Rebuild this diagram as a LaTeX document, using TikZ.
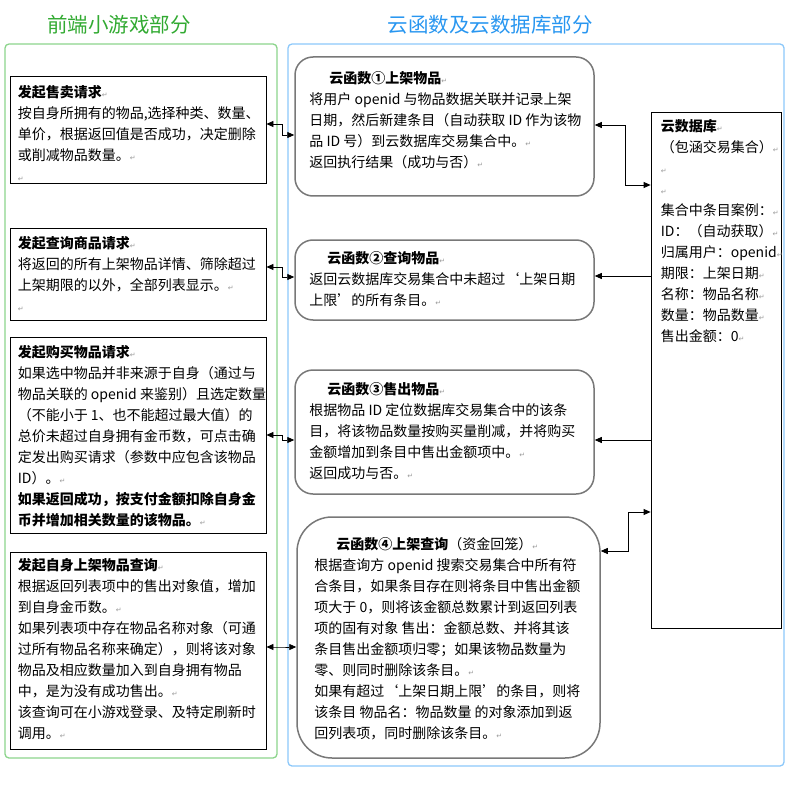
\documentclass[tikz,border=0pt]{standalone}
\usepackage{fontspec}
\setmainfont{Noto Sans CJK SC}
\newfontfamily\symfont{DejaVu Sans}
\usetikzlibrary{arrows.meta}
\definecolor{frontline}{RGB}{140,212,140}
\definecolor{fronttext}{RGB}{50,170,50}
\definecolor{cloudline}{RGB}{140,200,250}
\definecolor{cloudtext}{RGB}{40,150,240}
\definecolor{fnline}{RGB}{120,120,120}
\newcommand{\ret}{{\symfont\fontsize{7}{7}\selectfont\color{gray!80}↵}}
\newcommand{\bodyfont}{\fontsize{14}{21}\selectfont}
\newcommand{\headfont}{\fontsize{20.5}{24}\selectfont}

\begin{document}
\begin{tikzpicture}[x=1pt, y=-1pt,
	part/.style={draw, line width=1.3pt, rounded corners=4pt},
	req/.style={draw, line width=0.8pt, inner sep=0pt, minimum width=256pt},
	fn/.style={draw=fnline, line width=1.5pt, rounded corners=18pt, inner sep=0pt, minimum width=299pt},
	txt/.style={anchor=north west, inner sep=0pt, align=left, font=\bodyfont},
	both/.style={line width=0.8pt, {Triangle[length=7pt,width=6pt]}-{Triangle[length=7pt,width=6pt]}},
	arr/.style={line width=0.8pt, -{Triangle[length=7pt,width=6pt]}}]
	\useasboundingbox (0,0) rectangle (788,794);
	
	%the two parts
	\draw[part, frontline] (5,44) rectangle (277,758);
	\draw[part, cloudline] (288,44) rectangle (784,766);
	\node[text=fronttext, font=\headfont] (fronthead) at (119,25) {前端小游戏部分};
	\node[text=cloudtext, font=\headfont] (cloudhead) at (490,25) {云函数及云数据库部分};
	
	%front requests
	\node[req, minimum height=107pt] (sell) at (138,129.5) {};
	\node[req, minimum height=92pt] (query) at (138,274) {};
	\node[req, minimum height=196pt] (buy) at (138,435) {};
	\node[req, minimum height=197pt] (mine) at (138,650.5) {};
	
	\node[txt] (sell-t) at ([xshift=8pt,yshift=-10pt]sell.north west) {%
		\textbf{发起售卖请求}\ret\\
		按自身所拥有的物品,选择种类、数量、\\
		单价，根据返回值是否成功，决定删除\\
		或削减物品数量。\ret\\
		\ret};
	\node[txt] (query-t) at ([xshift=8pt,yshift=-9pt]query.north west) {%
		\textbf{发起查询商品请求}\ret\\
		将返回的所有上架物品详情、筛除超过\\
		上架期限的以外，全部列表显示。\ret\\
		\ret};
	\node[txt] (buy-t) at ([xshift=8pt,yshift=-9pt]buy.north west) {%
		\textbf{发起购买物品请求}\ret\\
		如果选中物品并非来源于自身（通过与\\
		物品关联的 openid 来鉴别）且选定数量\\
		（不能小于 1、也不能超过最大值）的\\
		总价未超过自身拥有金币数，可点击确\\
		定发出购买请求（参数中应包含该物品\\
		ID）。\ret\\
		\textbf{如果返回成功，按支付金额扣除自身金}\\
		\textbf{币并增加相关数量的该物品。}\ret};
	\node[txt] (mine-t) at ([xshift=8pt,yshift=-7pt]mine.north west) {%
		\textbf{发起自身上架物品查询}\ret\\
		根据返回列表项中的售出对象值，增加\\
		到自身金币数。\ret\\
		如果列表项中存在物品名称对象（可通\\
		过所有物品名称来确定），则将该对象\\
		物品及相应数量加入到自身拥有物品\\
		中，是为没有成功售出。\ret\\
		该查询可在小游戏登录、及特定刷新时\\
		调用。\ret};
	
	%cloud functions
	\node[fn, minimum height=139pt] (fn1) at (444.5,126.5) {};
	\node[fn, minimum height=80pt] (fn2) at (444.5,280) {};
	\node[fn, minimum height=124pt] (fn3) at (444.5,432) {};
	\node[fn, rounded corners=35pt, minimum width=303pt, minimum height=241pt] (fn4) at (448.5,637.5) {};
	
	\node[txt] (fn1-t) at ([xshift=15pt,yshift=-15pt]fn1.north west) {%
		\hspace*{20pt}\textbf{云函数①上架物品}\ret\\
		将用户 openid 与物品数据关联并记录上架\\
		日期，然后新建条目（自动获取 ID 作为该物\\
		品 ID 号）到云数据库交易集合中。\ret\\
		返回执行结果（成功与否）\ret};
	\node[txt] (fn2-t) at ([xshift=15pt,yshift=-12pt]fn2.north west) {%
		\hspace*{18pt}\textbf{云函数②查询物品}\ret\\
		返回云数据库交易集合中未超过‘上架日期\\
		上限’的所有条目。\ret};
	\node[txt] (fn3-t) at ([xshift=15pt,yshift=-13pt]fn3.north west) {%
		\hspace*{18pt}\textbf{云函数③售出物品}\ret\\
		根据物品 ID 定位数据库交易集合中的该条\\
		目，将该物品数量按购买量削减，并将购买\\
		金额增加到条目中售出金额项中。\ret\\
		返回成功与否。\ret};
	\node[txt] (fn4-t) at ([xshift=18pt,yshift=-21pt]fn4.north west) {%
		\hspace*{22pt}\textbf{云函数④上架查询}（资金回笼）\ret\\
		根据查询方 openid 搜索交易集合中所有符\\
		合条目，如果条目存在则将条目中售出金额\\
		项大于 0，则将该金额总数累计到返回列表\\
		项的固有对象 售出：金额总数、并将其该\\
		条目售出金额项归零；如果该物品数量为\\
		零、则同时删除该条目。\ret\\
		如果有超过‘上架日期上限’的条目，则将\\
		该条目 物品名：物品数量 的对象添加到返\\
		回列表项，同时删除该条目。\ret};
	
	%cloud database
	\node[draw, line width=0.8pt, inner sep=0pt, minimum width=130pt, minimum height=516pt] (db) at (716,370) {};
	\node[txt] (db-t) at ([xshift=10pt,yshift=-8pt]db.north west) {%
		\textbf{云数据库}\ret\\
		（包涵交易集合）\ret\\
		\ret\\
		\ret\\
		集合中条目案例：\ret\\
		ID：（自动获取）\ret\\
		归属用户：openid\ret\\
		期限：上架日期\ret\\
		名称：物品名称\ret\\
		数量：物品数量\ret\\
		售出金额：0\ret};
	
	%requests <-> functions
	\draw[both] ([yshift=5.5pt]sell.east) -- ++(16,0) |- ([yshift=-8.5pt]fn1.west);
	\draw[both] ([yshift=7pt]query.east) -- ++(16,0) |- ([yshift=3pt]fn2.west);
	\draw[both] (buy.east) -- ++(16,0) |- ([yshift=-8pt]fn3.west);
	\draw[both] ([yshift=3.5pt]mine.east) -- ++(16,0) |- ([yshift=-9.5pt]fn4.west);
	
	%functions <-> database
	\draw[both] ([yshift=1.5pt]fn1.east) -- ++(31,0) |- ([yshift=185pt]db.west);
	\draw[arr] ([yshift=94pt]db.west) -- ([yshift=4pt]fn2.east);
	\draw[arr] ([yshift=-70pt]db.west) -- ([yshift=-8pt]fn3.east);
	\draw[both] ([yshift=86.5pt]fn4.east) -- ++(28,0) |- ([yshift=-142pt]db.west);
\end{tikzpicture}
\end{document}
